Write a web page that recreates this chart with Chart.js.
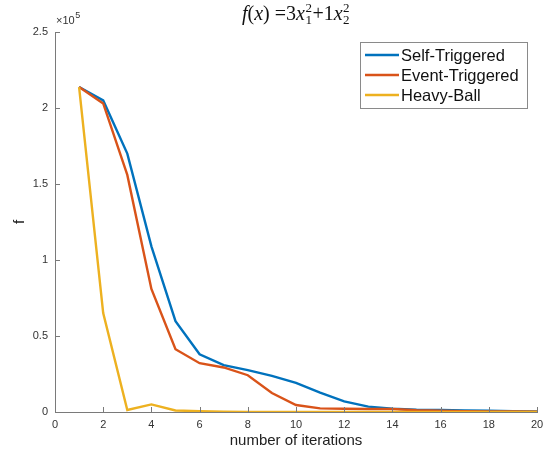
<!DOCTYPE html>
<html>
<head>
<meta charset="utf-8">
<script src="https://cdn.jsdelivr.net/npm/chart.js@4/dist/chart.umd.min.js"></script>
<style>
  html, body { margin: 0; padding: 0; background: #ffffff; }
  canvas { display: block; }
</style>
</head>
<body>
<canvas id="c" width="543" height="455"></canvas>
<script>
// Iteration index and objective value f for each method
const iterations = [1, 2, 3, 4, 5, 6, 7, 8, 9, 10, 11, 12, 13, 14, 15, 16, 17, 18, 19, 20];
const selfTriggered = [213800, 205000, 170000, 109000, 59800, 38000, 30800, 27500, 23800, 19200, 12700, 7000, 3500, 2200, 1500, 1300, 1100, 900, 600, 400];
const eventTriggered = [213800, 203000, 156000, 81000, 41300, 32100, 29300, 24200, 12500, 4600, 2400, 2100, 2000, 2000, 1200, 800, 600, 400, 300, 200];
const heavyBall = [213800, 65100, 1300, 5000, 1000, 500, 200, 100, 50, 30, 20, 10, 5, 5, 0, 0, 0, 0, 0, 0];
const xTicks = [0, 2, 4, 6, 8, 10, 12, 14, 16, 18, 20];
const yTicks = [0, 50000, 100000, 150000, 200000, 250000];

const seriesNames = ['Self-Triggered', 'Event-Triggered', 'Heavy-Ball'];
const seriesColors = ['#0072BD', '#D95319', '#EDB120'];
const seriesValues = [selfTriggered, eventTriggered, heavyBall];

const AXIS_COLOR = '#7a7a7a';
const TEXT_COLOR = '#333333';
const SANS = '"Liberation Sans", Arial, Helvetica, sans-serif';
const SERIF = '"Liberation Serif", "Times New Roman", serif';

const datasets = seriesNames.map((name, i) => ({
  label: name,
  data: iterations.map((x, k) => ({ x: x, y: seriesValues[i][k] })),
  borderColor: seriesColors[i],
  backgroundColor: seriesColors[i],
  borderWidth: 2.4,
  pointRadius: 0,
  tension: 0,
  fill: false,
  order: seriesNames.length - i   // later series drawn on top
}));

// Inward tick marks on the left and bottom axes
const innerTicks = {
  id: 'innerTicks',
  afterDatasetsDraw(chart) {
    const { ctx, chartArea: a } = chart;
    const xs = chart.scales.x, ys = chart.scales.y;
    ctx.save();
    ctx.strokeStyle = AXIS_COLOR;
    ctx.lineWidth = 1;
    ctx.beginPath();
    xs.ticks.forEach(t => {
      const px = Math.round(xs.getPixelForValue(t.value)) + 0.5;
      ctx.moveTo(px, a.bottom);
      ctx.lineTo(px, a.bottom - 5);
    });
    ys.ticks.forEach(t => {
      const py = Math.round(ys.getPixelForValue(t.value)) + 0.5;
      ctx.moveTo(a.left, py);
      ctx.lineTo(a.left + 5, py);
    });
    ctx.stroke();
    ctx.restore();
  }
};

// Exponent marker above the y axis
const exponentLabel = {
  id: 'exponentLabel',
  afterDraw(chart) {
    const { ctx, chartArea: a } = chart;
    ctx.save();
    ctx.fillStyle = TEXT_COLOR;
    ctx.textBaseline = 'alphabetic';
    ctx.textAlign = 'left';
    ctx.font = '11px ' + SANS;
    const base = '\u00d710';
    ctx.fillText(base, a.left + 1, a.top - 8);
    const w = ctx.measureText(base).width;
    ctx.font = '9px ' + SANS;
    ctx.fillText('5', a.left + 1 + w + 0.5, a.top - 14);
    ctx.restore();
  }
};

// Formula title: f(x) = 3x_1^2 + 1x_2^2
const formulaTitle = {
  id: 'formulaTitle',
  afterDraw(chart) {
    const { ctx } = chart;
    const size = 20, small = 13;
    const parts = [
      { t: 'f', it: true }, { t: '(' }, { t: 'x', it: true }, { t: ')' },
      { t: ' =' }, { t: '3' }, { t: 'x', it: true }, { sub: '1', sup: '2' },
      { t: '+' }, { t: '1' }, { t: 'x', it: true }, { sub: '2', sup: '2' }
    ];
    const fontOf = p => (p.it ? 'italic ' : '') + size + 'px ' + SERIF;
    ctx.save();
    let total = 0;
    const widths = parts.map(p => {
      if (p.t !== undefined) { ctx.font = fontOf(p); return ctx.measureText(p.t).width; }
      ctx.font = small + 'px ' + SERIF;
      return Math.max(ctx.measureText(p.sub).width, ctx.measureText(p.sup).width) + 1;
    });
    widths.forEach(w => total += w);
    let x = 296 - total / 2;
    const baseY = 20;
    ctx.fillStyle = '#111111';
    ctx.textAlign = 'left';
    ctx.textBaseline = 'alphabetic';
    parts.forEach((p, i) => {
      if (p.t !== undefined) {
        ctx.font = fontOf(p);
        ctx.fillText(p.t, x, baseY);
      } else {
        ctx.font = small + 'px ' + SERIF;
        ctx.fillText(p.sup, x + 0.5, baseY - 8);
        ctx.fillText(p.sub, x + 0.5, baseY + 4);
      }
      x += widths[i];
    });
    ctx.restore();
  }
};

// Boxed legend in the upper right of the plot
const boxedLegend = {
  id: 'boxedLegend',
  afterDraw(chart) {
    const { ctx } = chart;
    const box = { x: 360.5, y: 42.5, w: 167, h: 66 };
    ctx.save();
    ctx.fillStyle = '#ffffff';
    ctx.fillRect(box.x, box.y, box.w, box.h);
    ctx.strokeStyle = '#8a8a8a';
    ctx.lineWidth = 1;
    ctx.strokeRect(box.x, box.y, box.w, box.h);
    ctx.font = '16.5px ' + SANS;
    ctx.textBaseline = 'middle';
    ctx.textAlign = 'left';
    chart.data.datasets.forEach((ds, i) => {
      const cy = 55 + i * 20;
      ctx.strokeStyle = ds.borderColor;
      ctx.lineWidth = 2.4;
      ctx.beginPath();
      ctx.moveTo(365, cy);
      ctx.lineTo(399, cy);
      ctx.stroke();
      ctx.fillStyle = '#111111';
      ctx.fillText(ds.label, 401, cy + 1);
    });
    ctx.restore();
  }
};

new Chart(document.getElementById('c'), {
  type: 'line',
  data: { datasets: datasets },
  options: {
    responsive: false,
    animation: false,
    layout: { padding: { top: 32, right: 6, left: 0, bottom: 0 } },
    plugins: {
      legend: { display: false },
      title: { display: false },
      tooltip: { enabled: false }
    },
    scales: {
      x: {
        type: 'linear',
        min: 0,
        max: 20,
        afterBuildTicks(scale) { scale.ticks = xTicks.map(v => ({ value: v })); },
        afterFit(scale) { scale.height = 43; scale.paddingLeft = 0; scale.paddingRight = 0; },
        grid: { display: false, drawTicks: false },
        border: { display: true, color: AXIS_COLOR, width: 1 },
        ticks: {
          padding: 6,
          maxRotation: 0,
          autoSkip: false,
          color: TEXT_COLOR,
          font: { family: SANS, size: 11 }
        },
        title: {
          display: true,
          text: 'number of iterations',
          color: '#222222',
          font: { family: SANS, size: 15 },
          padding: { top: 0, bottom: 5 }
        }
      },
      y: {
        type: 'linear',
        min: 0,
        max: 250000,
        afterBuildTicks(scale) { scale.ticks = yTicks.map(v => ({ value: v })); },
        afterFit(scale) { scale.width = 55; scale.paddingTop = 0; scale.paddingBottom = 0; },
        grid: { display: false, drawTicks: false },
        border: { display: true, color: AXIS_COLOR, width: 1 },
        ticks: {
          padding: 7,
          autoSkip: false,
          color: TEXT_COLOR,
          font: { family: SANS, size: 11 },
          callback: v => String(v / 100000)
        },
        title: {
          display: true,
          text: 'f',
          color: '#222222',
          font: { family: SANS, size: 15 },
          padding: { top: 11, bottom: 0 }
        }
      }
    }
  },
  plugins: [innerTicks, exponentLabel, formulaTitle, boxedLegend]
});
</script>
</body>
</html>
